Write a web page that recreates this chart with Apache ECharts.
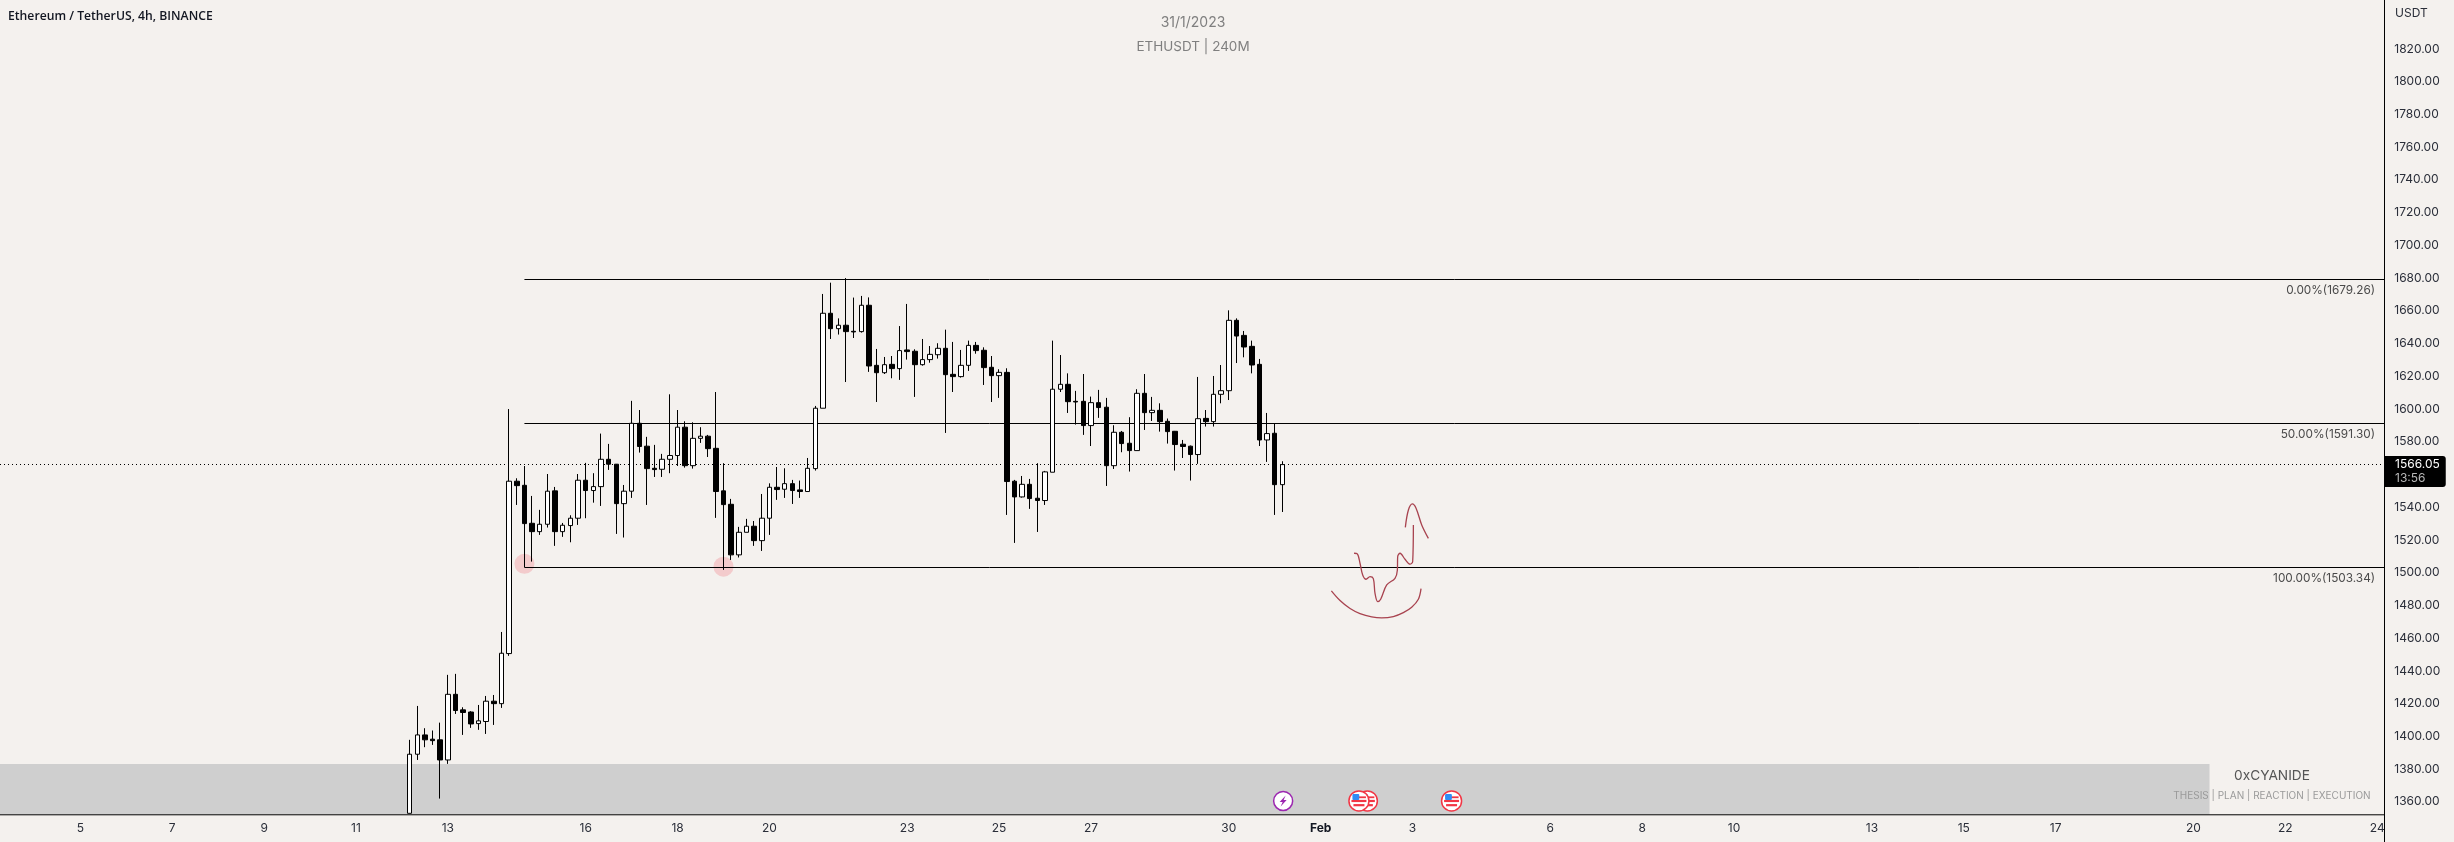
<!DOCTYPE html>
<html><head><meta charset="utf-8">
<style>html,body{margin:0;padding:0;background:#f4f1ee}#c{width:2454px;height:842px}</style>
<script src="https://cdn.jsdelivr.net/npm/echarts@6/dist/echarts.min.js"></script>
</head><body><div id="c"></div>
<script>
// candles from 12 Jan 04:00, one every 4 hours
const opens=[1353,1389.1,1400.9,1398.3,1397.9,1385.6,1425.7,1416.2,1414.9,1407.8,1409.1,1421.5,1420.0,1450.6,1555.9,1553.4,1530.2,1525.1,1529.6,1550.0,1525.1,1528.8,1533.3,1556.5,1550.2,1552.6,1569.3,1566.3,1542.2,1549.8,1591.3,1577.3,1563.8,1563.2,1569.3,1571.6,1588.9,1565.4,1582.1,1583.4,1576.0,1550.0,1541.8,1510.9,1524.7,1528.4,1519.6,1533.3,1552.2,1551.0,1554.4,1550.6,1549.6,1563.6,1600.5,1658.5,1649.1,1651.2,1647.5,1647.3,1663.4,1626.7,1622.2,1627.3,1624.7,1636.1,1635.3,1627.1,1630.2,1633.2,1637.1,1621.2,1619.8,1626.7,1638.9,1635.9,1625.5,1620.4,1622.4,1555.9,1546.3,1554.0,1545.5,1544.1,1561.4,1612.1,1615.1,1604.7,1604.7,1589.9,1603.9,1601.1,1565.4,1585.8,1579.1,1574.6,1609.6,1597.8,1599.2,1592.5,1586.4,1578.5,1577.3,1572.2,1594.3,1592.3,1609.0,1611.2,1654.2,1645.0,1638.3,1627.3,1581.1,1585.2,1553.8];
const closes=[1389.1,1400.9,1397.9,1397.4,1385.6,1425.7,1415.8,1414.6,1407.6,1409.5,1421.5,1420.0,1450.8,1555.9,1553.2,1530.0,1525.1,1529.6,1549.8,1525.1,1529.0,1533.3,1556.5,1550.2,1552.6,1569.3,1566.3,1542.2,1549.8,1591.3,1577.1,1563.6,1563.0,1569.3,1571.6,1588.9,1565.4,1582.1,1583.4,1575.8,1549.6,1541.6,1510.9,1524.7,1528.4,1519.6,1533.3,1552.2,1550.8,1554.4,1550.2,1549.6,1563.8,1600.5,1658.5,1649.1,1651.2,1647.3,1647.1,1663.4,1626.3,1622.2,1627.1,1624.7,1635.7,1635.1,1627.1,1630.2,1633.4,1637.1,1621.0,1619.8,1626.7,1638.9,1635.7,1625.3,1620.4,1622.4,1555.7,1546.3,1554.0,1545.3,1544.1,1561.6,1612.1,1615.1,1604.5,1604.3,1589.9,1603.9,1600.9,1565.4,1585.8,1578.9,1574.6,1609.6,1597.8,1599.2,1592.3,1586.2,1578.3,1577.1,1572.2,1594.1,1592.3,1609.0,1611.2,1654.2,1644.6,1637.9,1626.9,1581.1,1585.0,1553.8,1566.05];
const lows=[1353,1385.6,1393.4,1394.8,1362.0,1383.2,1413.7,1400.9,1405.2,1404.0,1401.5,1407.0,1417.4,1449.2,1541.4,1503.3,1506.8,1523.1,1527.6,1516.4,1521.9,1518.6,1529.2,1533.3,1542.8,1540.8,1562.8,1523.7,1521.5,1545.7,1573.4,1541.4,1558.5,1558.5,1560.8,1565.2,1564.2,1563.6,1579.3,1570.7,1533.5,1501.7,1507.8,1509.3,1524.7,1516.4,1513.3,1523.1,1544.5,1545.7,1542.0,1545.7,1549.6,1562.4,1600.5,1642.8,1645.5,1616.5,1643.4,1646.7,1622.7,1604.3,1621.4,1618.8,1617.8,1630.2,1607.4,1626.5,1628.3,1630.8,1585.4,1610.4,1619.2,1623.3,1633.8,1614.7,1604.3,1606.8,1535.3,1518.2,1545.9,1539.0,1524.9,1541.4,1561.4,1610.4,1597.6,1590.5,1584.2,1577.4,1594.6,1553.0,1563.4,1573.6,1561.8,1574.6,1587.2,1592.7,1586.2,1578.9,1562.4,1570.1,1556.3,1566.5,1589.3,1589.3,1603.5,1605.5,1628.1,1631.6,1621.8,1577.4,1567.7,1535.3,1537.1];
const highs=[1397.9,1418.6,1405.0,1403.6,1408.4,1437.6,1438.2,1417.8,1415.4,1419.2,1424.7,1425.3,1463.8,1600.0,1557.7,1565.2,1546.9,1538.4,1560.3,1552.4,1530.4,1535.1,1560.3,1567.1,1560.8,1585.0,1578.7,1566.3,1553.6,1605.0,1599.4,1583.0,1578.1,1572.6,1609.0,1599.4,1592.5,1591.9,1588.9,1584.2,1610.4,1566.9,1545.1,1528.0,1532.9,1531.6,1548.1,1554.6,1564.6,1563.8,1556.7,1556.3,1570.1,1601.9,1670.3,1677.2,1655.4,1680.0,1668.1,1669.1,1668.2,1636.7,1631.8,1632.4,1650.7,1664.2,1636.5,1642.8,1638.5,1640.2,1648.5,1641.0,1636.1,1641.8,1641.0,1637.7,1632.4,1624.3,1624.9,1556.7,1559.1,1557.3,1566.9,1562.2,1641.8,1633.0,1621.8,1611.1,1621.4,1607.6,1611.7,1606.8,1590.1,1586.6,1595.0,1612.1,1621.4,1607.4,1603.5,1594.2,1586.6,1581.1,1577.7,1619.6,1599.4,1620.2,1626.9,1660.3,1655.4,1647.7,1641.8,1630.6,1597.6,1591.3,1568.1];
const fibLevels=[1679.26,1591.30,1503.34];
const fibLabels=['0.00%(1679.26)','50.00%(1591.30)','100.00%(1503.34)'];
const lastPrice=1566.05, countdown='13:56';
const priceTicks=[1360,1380,1400,1420,1440,1460,1480,1500,1520,1540,1560,1580,1600,1620,1640,1660,1680,1700,1720,1740,1760,1780,1800,1820];
const tickDates=['01-05','01-07','01-09','01-11','01-13','01-16','01-18','01-20','01-23','01-25','01-27','01-30','02-01','02-03','02-06','02-08','02-10','02-13','02-15','02-17','02-20','02-22','02-24'];
const tickLabels=['5','7','9','11','13','16','18','20','23','25','27','30','Feb','3','6','8','10','13','15','17','20','22','24'];
// drawing strokes, in [bar position, price]
const arcStroke=[[174.90,1488.9],[176.03,1483.0],[177.34,1478.1],[178.64,1475.0],[180.17,1473.0],[181.47,1472.4],[182.99,1473.2],[184.30,1475.6],[185.39,1478.9],[186.26,1483.8],[186.61,1490.3]];
const pathStroke=[[177.86,1511.9],[178.29,1511.5],[178.64,1505.8],[178.99,1498.6],[179.43,1496.0],[179.95,1497.6],[180.38,1496.4],[180.60,1487.4],[180.95,1482.3],[181.34,1483.8],[182.13,1492.5],[183.21,1496.6],[183.52,1501.7],[183.56,1509.8],[183.87,1511.9],[184.52,1508.2],[185.17,1505.2],[185.52,1506.8],[185.61,1529.2]];
const hookStroke=[[184.56,1527.7],[184.96,1538.3],[185.48,1542.0],[185.96,1539.4],[186.70,1529.2],[187.57,1521.0]];
const touchPoints=[[69.5,1505.4],[95.5,1503.7]];
const events=[['bolt',168.6,1360.6],['flag',179.6,1360.6],['flag',178.5,1360.6],['flag',190.6,1360.6]];

// 312 four-hour slots from 3 Jan 08:00 across the pane
const categories=[];
(function(){const t0=Date.UTC(2023,0,3,8);const p=n=>String(n).padStart(2,'0');
for(let i=0;i<312;i++){const d=new Date(t0+i*4*3600e3);categories.push(p(d.getUTCMonth()+1)+'-'+p(d.getUTCDate())+' '+p(d.getUTCHours())+':00');}})();
const tickMap={};tickDates.forEach((d,i)=>{tickMap[d+' 00:00']=tickLabels[i];});
const firstIndex=categories.indexOf('01-12 04:00');
const candleData=opens.map((o,i)=>[firstIndex+i,o,closes[i],lows[i],highs[i]]);

const BG='#f4f1ee', FONT='Inter', BAR=7.656, PANE_B=814.3;
const PMIN=1352.4,PMAX=1849.9,VMIN=1,VMAX=313,FIB_START=69.5,PANE_END=312.4,BAND_END=289.6,BAND_TOP=1383.2;

function ln(shape,extra){return Object.assign({type:'line',shape,style:{stroke:'#000',lineWidth:1},silent:true,z:15},extra||{});}
function txt(x,y,text,font,fill,align,z){return {type:'text',x,y,z:z||20,silent:true,style:{text,font,fill,align:align||'center',verticalAlign:'middle'}};}

function renderEvent(params,api){
  const kind=events[params.dataIndex][0];
  const c=api.coord([api.value(0),api.value(1)]);
  if(kind==='bolt'){
    return {type:'group',x:c[0],y:c[1],children:[
      {type:'circle',shape:{r:9.5},style:{fill:'#fff',stroke:'#9c27b0',lineWidth:1.5}},
      {type:'polygon',shape:{points:[[2.5,-5.5],[-3.5,1],[-0.5,1],[-2.5,5.5],[3.5,-1],[0.5,-1]]},style:{fill:'#9c27b0'}}
    ]};
  }
  const kids=[{type:'circle',shape:{r:10},style:{fill:'#fff',stroke:'#f23645',lineWidth:1.5}}];
  kids.push({type:'rect',shape:{x:-7.5,y:-1,width:15,height:2.2},style:{fill:'#f23645'}});
  kids.push({type:'rect',shape:{x:-5.5,y:3.2,width:11,height:2.2},style:{fill:'#f23645'}});
  kids.push({type:'rect',shape:{x:-1,y:-4.5,width:8,height:1.8},style:{fill:'#f23645'}});
  kids.push({type:'rect',shape:{x:-6.5,y:-6.8,width:6.8,height:5.8,r:1},style:{fill:'#2f8cf5'}});
  return {type:'group',x:c[0],y:c[1],children:kids};
}

const fibSeries=fibLevels.map((lv,i)=>({
  type:'line',xAxisIndex:1,yAxisIndex:0,data:[],z:3,silent:true,
  markLine:{silent:true,symbol:'none',animation:false,precision:2,
    lineStyle:{color:'#000',width:1,type:'solid'},
    label:{show:true,position:'insideEndBottom',formatter:fibLabels[i],color:'#4a4a4a',fontFamily:FONT,fontSize:11.8,distance:[9,5]},
    emphasis:{disabled:true},
    data:[[{coord:[FIB_START,lv]},{coord:[PANE_END,lv]}]]}
}));

const chart=echarts.init(document.getElementById('c'),null,{renderer:'canvas'});
chart.setOption({
  animation:false,backgroundColor:BG,
  grid:{left:0,top:0,width:312*BAR,height:PANE_B,containLabel:false},
  xAxis:[
    {type:'category',data:categories,boundaryGap:true,axisLine:{show:false},axisTick:{show:false},splitLine:{show:false},
      axisLabel:{interval:(idx,val)=>val in tickMap,formatter:(val)=>tickMap[val]==='Feb'?'{b|Feb}':(tickMap[val]||''),
        color:'#2a2e39',fontFamily:FONT,fontSize:12,margin:8,showMinLabel:true,showMaxLabel:true,hideOverlap:false,
        rich:{b:{fontWeight:'bold',color:'#131722',fontFamily:FONT,fontSize:12}}}},
    {type:'value',min:VMIN,max:VMAX,show:false}
  ],
  yAxis:[{type:'value',position:'right',offset:-4.4,min:PMIN,max:PMAX,scale:true,
    axisLine:{show:false},axisTick:{show:false},splitLine:{show:false},
    axisLabel:{customValues:priceTicks,formatter:v=>v.toFixed(2),color:'#2a2e39',fontFamily:FONT,fontSize:12,margin:10}}],
  series:[
    {type:'line',xAxisIndex:1,data:[],z:1,silent:true,
      markArea:{silent:true,itemStyle:{color:'#cfcfcf'},data:[[{coord:[VMIN,BAND_TOP]},{coord:[BAND_END,PMIN]}]]}},
    {type:'scatter',xAxisIndex:1,data:touchPoints,symbol:'circle',symbolSize:20,silent:true,z:2,
      itemStyle:{color:'rgba(242,54,69,0.25)'}},
    ...fibSeries,
    {type:'line',xAxisIndex:1,data:[],z:3,silent:true,
      markLine:{silent:true,symbol:'none',precision:2,animation:false,emphasis:{disabled:true},
        lineStyle:{color:'#000',width:1,type:[1,3]},
        label:{show:true,position:'end',distance:0,offset:[0,7],padding:[1,6,2,11],backgroundColor:'#000',borderRadius:[0,3,3,0],
          formatter:'{p|'+lastPrice.toFixed(2)+'}\n{t|'+countdown+'}',
          rich:{p:{color:'#fff',fontFamily:FONT,fontSize:12,lineHeight:14,align:'left'},t:{color:'#b8b8b8',fontFamily:FONT,fontSize:12,lineHeight:14,align:'left'}}},
        data:[[{coord:[VMIN,lastPrice]},{coord:[PANE_END,lastPrice]}]]}},
    {type:'candlestick',xAxisIndex:0,data:candleData,barWidth:5,z:5,silent:true,
      encode:{x:0,y:[1,2,3,4]},
      itemStyle:{color:'#ffffff',color0:'#000000',borderColor:'#000000',borderColor0:'#000000',borderWidth:1}},
    ...[arcStroke,pathStroke,hookStroke].map(s=>({type:'line',xAxisIndex:1,data:s,smooth:0.35,showSymbol:false,symbol:'none',z:6,silent:true,
      lineStyle:{color:'#a8434f',width:1.3}})),
    {type:'custom',xAxisIndex:1,data:events.map(e=>[e[1],e[2]]),renderItem:renderEvent,z:7,silent:true,clip:false,encode:{x:0,y:1}}
  ],
  graphic:[
    ln({x1:0,y1:PANE_B+.5,x2:2384,y2:PANE_B+.5}),
    ln({x1:2384.5,y1:0,x2:2384.5,y2:842}),
    txt(8,16.5,'Ethereum / TetherUS, 4h, BINANCE','600 12.2px "Open Sans"','#131722','left'),
    txt(2395,13,'USDT','12px Inter','#2a2e39','left'),
    txt(1193,23,'31/1/2023','14px Inter','#7f7f7f'),
    txt(1193,46.5,'ETHUSDT | 240M','13.5px Inter','#7f7f7f'),
    txt(2272,776,'0xCYANIDE','13.7px Inter','#555'),
    txt(2272,795.5,'THESIS | PLAN | REACTION | EXECUTION','10px Inter','#9a9a9a')
  ]
});
</script></body></html>
